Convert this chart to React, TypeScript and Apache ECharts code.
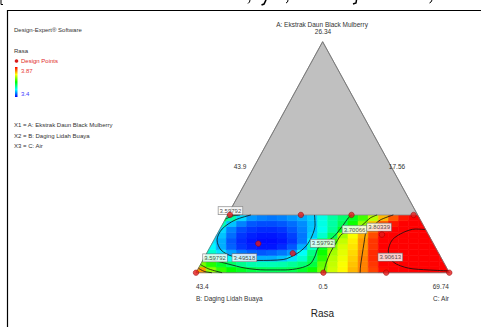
import React, { useEffect, useRef } from "react";
import * as echarts from "echarts";

type Pt = [number, number];

// Mixture plane in plotting units: B vertex (0,0), C vertex (100,0), A vertex (50,100).
const simplexVertices: Pt[] = [[0, 0], [100, 0], [50, 100]];
// Feasible part of the simplex (A limited to the lower quarter) and the excluded part above it.
const feasibleRegion: Pt[] = [[0, 0], [100, 0], [87.5, 25], [12.5, 25]];
const excludedRegion: Pt[] = [[12.5, 25], [87.5, 25], [50, 100]];

// Predicted Rasa on a grid of cells (cell centres), bottom row first.
const cellX = [2, 6, 10, 14, 18, 22, 26, 30, 34, 38, 42, 46, 50, 54, 58, 62, 66, 70, 74, 78, 82, 86, 90, 94, 98];
const cellY = [1.25, 3.75, 6.25, 8.75, 11.25, 13.75, 16.25, 18.75, 21.25, 23.75];
const rasaRow0 = [3.8, 3.7, 3.66, 3.635, 3.62, 3.605, 3.598, 3.595, 3.595, 3.6, 3.615, 3.64, 3.69, 3.73, 3.755, 3.785, 3.81, 3.84, 3.865, 3.88, 3.89, 3.895, 3.9, 3.91, 3.91];
const rasaRow1 = [3.69, 3.65, 3.615, 3.59, 3.57, 3.555, 3.55, 3.55, 3.555, 3.565, 3.58, 3.605, 3.68, 3.725, 3.75, 3.78, 3.81, 3.845, 3.875, 3.9, 3.915, 3.925, 3.93, 3.93, 3.925];
const rasaRow2 = [3.61, 3.585, 3.55, 3.52, 3.5, 3.485, 3.48, 3.48, 3.49, 3.505, 3.54, 3.59, 3.655, 3.72, 3.745, 3.775, 3.81, 3.85, 3.885, 3.91, 3.93, 3.94, 3.945, 3.945, 3.94];
const rasaRow3 = [3.56, 3.54, 3.505, 3.475, 3.455, 3.445, 3.44, 3.445, 3.455, 3.47, 3.52, 3.575, 3.64, 3.71, 3.74, 3.77, 3.805, 3.85, 3.89, 3.92, 3.94, 3.95, 3.955, 3.955, 3.95];
const rasaRow4 = [3.52, 3.515, 3.48, 3.445, 3.425, 3.415, 3.41, 3.41, 3.42, 3.44, 3.48, 3.545, 3.62, 3.695, 3.735, 3.765, 3.8, 3.845, 3.885, 3.92, 3.94, 3.95, 3.955, 3.955, 3.955];
const rasaRow5 = [3.5, 3.505, 3.48, 3.44, 3.42, 3.41, 3.405, 3.405, 3.41, 3.425, 3.455, 3.51, 3.59, 3.665, 3.725, 3.76, 3.8, 3.845, 3.88, 3.91, 3.93, 3.94, 3.945, 3.945, 3.945];
const rasaRow6 = [3.5, 3.5, 3.49, 3.45, 3.425, 3.415, 3.41, 3.41, 3.415, 3.43, 3.455, 3.495, 3.54, 3.59, 3.71, 3.75, 3.79, 3.835, 3.87, 3.895, 3.915, 3.925, 3.93, 3.93, 3.93];
const rasaRow7 = [3.53, 3.53, 3.5, 3.46, 3.435, 3.425, 3.42, 3.42, 3.425, 3.44, 3.46, 3.49, 3.525, 3.565, 3.62, 3.69, 3.76, 3.82, 3.865, 3.89, 3.9, 3.91, 3.912, 3.912, 3.91];
const rasaRow8 = [3.57, 3.57, 3.55, 3.49, 3.46, 3.44, 3.435, 3.435, 3.44, 3.45, 3.465, 3.49, 3.53, 3.56, 3.595, 3.64, 3.7, 3.78, 3.83, 3.86, 3.885, 3.9, 3.905, 3.9, 3.9];
const rasaRow9 = [3.62, 3.62, 3.61, 3.56, 3.5, 3.47, 3.46, 3.455, 3.46, 3.47, 3.48, 3.495, 3.53, 3.56, 3.585, 3.62, 3.665, 3.72, 3.785, 3.83, 3.86, 3.885, 3.895, 3.9, 3.9];
const rasaRows = [rasaRow0, rasaRow1, rasaRow2, rasaRow3, rasaRow4, rasaRow5, rasaRow6, rasaRow7, rasaRow8, rasaRow9];

// Design points
const designX = [13.4, 41.4, 61.4, 85.9, 24.6, 38.2, 73.4, 0, 50.3, 75.1, 100];
const designY = [25, 25, 25, 25, 12.6, 8.4, 16.5, 0, 0, 0, 0];

// Contour lines
const contour349518: Pt[] = [[21.7, 25], [15.4, 22.8], [10.3, 18.9], [8.3, 14.2], [9.9, 9.8], [14.6, 7.0], [24.1, 5.3], [34.4, 5.7], [39.9, 8.3], [43.5, 11.6], [45.8, 15.9], [47.0, 20.6], [46.8, 25]];
const contour359792: Pt[] = [[3.2, 6.4], [12.6, 3.8], [19.4, 2.0], [27.3, 1.2], [35.2, 1.2], [41.1, 2.0], [45.1, 3.8], [47.0, 7.2], [48.2, 10.7], [51.4, 13.3], [54.5, 15.7], [58.1, 20.6], [60.1, 23.7], [61.5, 25]];
const contour359792Corner: Pt[] = [[17.4, 25], [14.2, 24.5], [11.7, 23.2]];
const contour370066: Pt[] = [[71.5, 25], [68.8, 23.7], [65.6, 20.6], [62.5, 18.7], [57.7, 16.8], [55.3, 12.9], [53.0, 8.6], [51.4, 4.2], [50.4, 0]];
const contour370066Corner: Pt[] = [[1.8, 3.5], [5.1, 1.6], [10.3, 0]];
const contour380339: Pt[] = [[77.9, 25], [72.7, 22.8], [69.6, 19.8], [67.2, 17.6], [66.4, 13.3], [65.6, 7.7], [65.0, 3.3], [64.8, 0]];
const contour380339Corner: Pt[] = [[1.0, 1.9], [3.2, 0.6], [6.3, 0]];
const contour390613: Pt[] = [[90.5, 18.7], [86.6, 18.9], [81.8, 17.4], [77.5, 14.2], [75.9, 9.4], [77.9, 4.6], [83.8, 2.0], [91.7, 1.2], [99.6, 0.8]];
const contourLines = [contour349518, contour359792, contour359792Corner, contour370066, contour370066Corner, contour380339, contour380339Corner, contour390613];

// Contour value tags
const contourLabelText = ["3.59792", "3.59792", "3.49518", "3.59792", "3.70066", "3.80339", "3.90613"];
const contourLabelX = [13.6, 7.5, 19.1, 50.0, 62.6, 72.3, 76.7];
const contourLabelY = [26.9, 6.4, 6.5, 12.7, 18.7, 19.7, 6.7];

// Colour scale
const colorMin = 3.4;
const colorMax = 3.87;
const rampColors = ["#0000ff", "#00ffff", "#00ff00", "#ffff00", "#ff0000"];

// Texts
const softwareText = "Design-Expert® Software";
const responseName = "Rasa";
const designPointsText = "Design Points";
const factorTexts = ["X1 = A: Ekstrak Daun Black Mulberry", "X2 = B: Daging Lidah Buaya", "X3 = C: Air"];
const apexName = "A: Ekstrak Daun Black Mulberry";
const apexValue = "26.34";
const leftEdgeValue = "43.9";
const rightEdgeValue = "17.56";
const bLeftValue = "43.4";
const baseMidValue = "0.5";
const cRightValue = "69.74";
const bName = "B: Daging Lidah Buaya";
const cName = "C: Air";

const CELL_W = 4;
const CELL_H = 2.5;
const FONT = "Liberation Sans, Arial, sans-serif";

// Sutherland–Hodgman clipping of a polygon against a convex counter-clockwise polygon
function clipToConvex(subject: Pt[], clip: Pt[]): Pt[] {
  let output = subject;
  for (let i = 0; i < clip.length; i++) {
    const a = clip[i];
    const b = clip[(i + 1) % clip.length];
    const ex = b[0] - a[0];
    const ey = b[1] - a[1];
    const inside = (p: Pt) => ex * (p[1] - a[1]) - ey * (p[0] - a[0]) >= -1e-9;
    const intersect = (p: Pt, q: Pt): Pt => {
      const dx = q[0] - p[0];
      const dy = q[1] - p[1];
      const t = -(ex * (p[1] - a[1]) - ey * (p[0] - a[0])) / (ex * dy - ey * dx);
      return [p[0] + t * dx, p[1] + t * dy];
    };
    const input = output;
    output = [];
    if (!input.length) break;
    for (let j = 0; j < input.length; j++) {
      const cur = input[j];
      const prev = input[(j + input.length - 1) % input.length];
      const ci = inside(cur);
      const pi = inside(prev);
      if (ci) {
        if (!pi) output.push(intersect(prev, cur));
        output.push(cur);
      } else if (pi) {
        output.push(intersect(prev, cur));
      }
    }
  }
  return output;
}

function txt(text: string, x: number, y: number, size: number, fill: string, align: string = "left") {
  return {
    type: "text",
    x,
    y,
    silent: true,
    z: 10,
    style: { text, fontSize: size, fontFamily: FONT, fill, textAlign: align, textVerticalAlign: "middle" },
  };
}

function buildOption() {
  const surfaceData: number[][] = [];
  cellY.forEach((y, r) => {
    cellX.forEach((x, c) => {
      surfaceData.push([x, y, rasaRows[r][c]]);
    });
  });

  const gradient = new echarts.graphic.LinearGradient(0, 0, 0, 1, [
    { offset: 0, color: rampColors[4] },
    { offset: 0.25, color: rampColors[3] },
    { offset: 0.5, color: rampColors[2] },
    { offset: 0.75, color: rampColors[1] },
    { offset: 1, color: rampColors[0] },
  ]);

  const stroke = (points: number[], w = 1) => ({
    type: "polyline",
    silent: true,
    shape: { points: [[points[0], points[1]], [points[2], points[3]], [points[4], points[5]]] },
    style: { stroke: "#000", lineWidth: w, fill: "none" },
  });

  return {
    animation: false,
    backgroundColor: "#ffffff",
    textStyle: { fontFamily: FONT },
    grid: { left: 196, right: 31.7, top: 41.7, bottom: 54.3 },
    xAxis: { type: "value", min: 0, max: 100, show: false },
    yAxis: { type: "value", min: 0, max: 100, show: false },
    visualMap: {
      type: "continuous",
      show: false,
      min: colorMin,
      max: colorMax,
      dimension: 2,
      seriesIndex: 0,
      inRange: { color: rampColors },
    },
    series: [
      {
        type: "custom",
        name: responseName,
        silent: true,
        z: 1,
        data: surfaceData,
        encode: { x: 0, y: 1 },
        renderItem: (_params: any, api: any) => {
          const xc = api.value(0) as number;
          const yc = api.value(1) as number;
          const cell: Pt[] = [
            [xc - CELL_W / 2, yc - CELL_H / 2],
            [xc + CELL_W / 2, yc - CELL_H / 2],
            [xc + CELL_W / 2, yc + CELL_H / 2],
            [xc - CELL_W / 2, yc + CELL_H / 2],
          ];
          const poly = clipToConvex(cell, feasibleRegion);
          if (poly.length < 3) return null;
          const color = api.visual("color");
          return {
            type: "polygon",
            shape: { points: poly.map((p) => api.coord(p)) },
            style: { fill: color, stroke: color, lineWidth: 0.6 },
          };
        },
      },
      {
        type: "custom",
        silent: true,
        z: 2,
        data: [[50, 50]],
        encode: { x: 0, y: 1 },
        renderItem: (_params: any, api: any) => ({
          type: "group",
          children: [
            {
              type: "polygon",
              shape: { points: excludedRegion.map((p) => api.coord(p)) },
              style: { fill: "#c0c0c0", stroke: "#8c8c8c", lineWidth: 0.8 },
            },
            {
              type: "polygon",
              shape: { points: simplexVertices.map((p) => api.coord(p)) },
              style: { fill: "none", stroke: "#707070", lineWidth: 0.8 },
            },
          ],
        }),
      },
      ...contourLines.map((line) => ({
        type: "line",
        silent: true,
        z: 3,
        clip: false,
        data: line,
        smooth: 0.3,
        symbol: "none",
        lineStyle: { color: "#111", width: 0.8 },
      })),
      {
        type: "scatter",
        silent: true,
        z: 4,
        clip: false,
        symbolSize: 1,
        itemStyle: { color: "rgba(0,0,0,0)" },
        data: contourLabelX.map((x, i) => ({ value: [x, contourLabelY[i]], name: contourLabelText[i] })),
        label: {
          show: true,
          position: "inside",
          formatter: "{b}",
          fontSize: 6,
          fontFamily: FONT,
          color: "#222",
          backgroundColor: "#ffffff",
          borderColor: "#707070",
          borderWidth: 0.6,
          padding: [1, 1.2, 0.5, 1.2],
        },
      },
      {
        type: "scatter",
        name: designPointsText,
        silent: true,
        z: 5,
        clip: false,
        symbolSize: 5.5,
        itemStyle: { color: "#e31a1a", borderColor: "#8b0000", borderWidth: 0.6 },
        data: designX.map((x, i) => [x, designY[i]]),
      },
    ],
    graphic: [
      // frame edges
      { type: "line", silent: true, shape: { x1: 7, y1: 10.5, x2: 481, y2: 10.5 }, style: { stroke: "#000", lineWidth: 1.2 } },
      { type: "line", silent: true, shape: { x1: 7.5, y1: 10, x2: 7.5, y2: 327 }, style: { stroke: "#000", lineWidth: 1.2 } },
      // bits of the line of text above the frame
      stroke([1, 0, 1, 4.5, 3, 4.5], 1),
      stroke([250, 0, 249.5, 2, 248, 3.5], 1),
      stroke([266, 0, 264, 4, 261.5, 5], 1.6),
      stroke([288, 0, 287.5, 2, 286, 3], 1),
      stroke([356.5, 0, 356, 3, 353, 4], 1.5),
      stroke([432, 0, 431, 2, 429.5, 3], 1),
      // legend block
      txt(softwareText, 14, 29.5, 6, "#333"),
      txt(responseName, 14, 51, 6, "#333"),
      { type: "circle", silent: true, shape: { cx: 16.5, cy: 61, r: 1.8 }, style: { fill: "#d81b1b" } },
      txt(designPointsText, 21, 61, 6, "#e02828"),
      { type: "rect", silent: true, shape: { x: 15, y: 67, width: 2.5, height: 30 }, style: { fill: gradient } },
      txt(String(colorMax), 21, 71, 6, "#e83a3a"),
      txt(String(colorMin), 21, 94, 6, "#3a3aff"),
      txt(factorTexts[0], 14, 125, 6, "#333"),
      txt(factorTexts[1], 14, 135.7, 6, "#333"),
      txt(factorTexts[2], 14, 145.7, 6, "#333"),
      // component labels
      txt(apexName, 322, 24, 6.5, "#333", "center"),
      txt(apexValue, 323, 31, 6.5, "#333", "center"),
      txt(leftEdgeValue, 240, 166, 6.5, "#333", "center"),
      txt(rightEdgeValue, 397, 166, 6.5, "#333", "center"),
      txt(bLeftValue, 196, 286, 6.5, "#333", "left"),
      txt(baseMidValue, 323, 286, 6.5, "#333", "center"),
      txt(cRightValue, 449, 286, 6.5, "#333", "right"),
      txt(bName, 196, 298.7, 6.5, "#333", "left"),
      txt(cName, 449, 298.7, 6.5, "#333", "right"),
      txt(responseName, 322.5, 313, 10, "#222", "center"),
    ],
  };
}

export default function App() {
  const ref = useRef<HTMLDivElement>(null);
  useEffect(() => {
    if (!ref.current) return;
    const chart = echarts.init(ref.current, null, { renderer: "svg" });
    chart.setOption(buildOption() as any);
    return () => chart.dispose();
  }, []);
  return (
    <div
      ref={ref}
      style={{ position: "absolute", left: 0, top: 0, width: 481, height: 327, background: "#fff" }}
    />
  );
}
